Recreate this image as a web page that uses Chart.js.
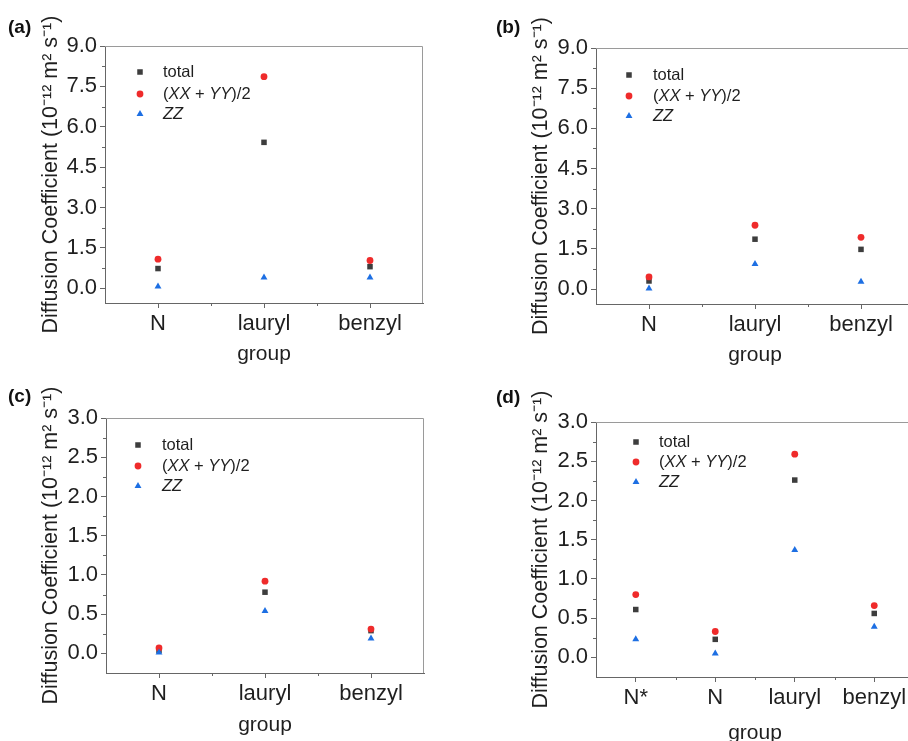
<!DOCTYPE html>
<html>
<head>
<meta charset="utf-8">
<script src="https://cdn.jsdelivr.net/npm/chart.js@4/dist/chart.umd.min.js"></script>
<style>
  body { margin: 0; background: #fff; width: 908px; height: 741px; overflow: hidden; position: relative; }
  .panel { position: absolute; }
</style>
</head>
<body>
<div class="panel" style="left:0;top:0"><canvas id="pa" width="454" height="370"></canvas></div>
<div class="panel" style="left:454px;top:0"><canvas id="pb" width="470" height="370"></canvas></div>
<div class="panel" style="left:0;top:370px"><canvas id="pc" width="454" height="371"></canvas></div>
<div class="panel" style="left:454px;top:370px"><canvas id="pd" width="470" height="376"></canvas></div>
<script>
// categories
var groupsABC = ['N', 'lauryl', 'benzyl'];
var groupsD = ['N*', 'N', 'lauryl', 'benzyl'];
// series names (_..._ = italic)
var seriesNames = ['total', '(_XX_ + _YY_)/2', '_ZZ_'];
// y tick labels
var ticksAB = [0, 1.5, 3, 4.5, 6, 7.5, 9];
var ticksCD = [0, 0.5, 1, 1.5, 2, 2.5, 3];

// (a)
var totalA = [0.73, 5.42, 0.80];
var xyA    = [1.08, 7.86, 1.03];
var zzA    = [0.06, 0.40, 0.40];
// (b)
var totalB = [0.30, 1.86, 1.48];
var xyB    = [0.45, 2.38, 1.93];
var zzB    = [0.02, 0.93, 0.27];
// (c)
var totalC = [0.04, 0.78, 0.29];
var xyC    = [0.07, 0.92, 0.31];
var zzC    = [0.01, 0.54, 0.19];
// (d)
var totalD = [0.61, 0.23, 2.26, 0.56];
var xyD    = [0.80, 0.33, 2.59, 0.66];
var zzD    = [0.23, 0.05, 1.37, 0.39];

var FONT = '"Liberation Sans", Arial, sans-serif';
var TEXT = '#1f1f1f';
var AXIS = '#666666';

var extras = {
  id: 'extras',
  afterDraw: function(chart) {
    var o = chart.options.plugins.extras;
    var ctx = chart.ctx, a = chart.chartArea, x = chart.scales.x, y = chart.scales.y;
    ctx.save();
    // top / right frame
    ctx.strokeStyle = '#9a9a9a';
    ctx.lineWidth = 1;
    ctx.beginPath();
    ctx.moveTo(a.left, a.top + 0.5);
    ctx.lineTo(a.right - 0.5, a.top + 0.5);
    ctx.lineTo(a.right - 0.5, a.bottom);
    ctx.stroke();
    // minor ticks
    ctx.strokeStyle = AXIS;
    ctx.beginPath();
    for (var i = 1; i < o.yTicks.length; i++) {
      var py = Math.round(y.getPixelForValue((o.yTicks[i-1] + o.yTicks[i]) / 2)) + 0.5;
      ctx.moveTo(a.left - 3, py); ctx.lineTo(a.left, py);
    }
    for (var j = 1; j < x.ticks.length; j++) {
      var px = Math.round((x.getPixelForTick(j-1) + x.getPixelForTick(j)) / 2) + 0.5;
      ctx.moveTo(px, a.bottom); ctx.lineTo(px, a.bottom + 3);
    }
    ctx.stroke();
    // legend inside plot
    ctx.textBaseline = 'middle';
    ctx.textAlign = 'left';
    chart.data.datasets.forEach(function(ds, k) {
      var mx = a.left + o.legend.mx, my = a.top + o.legend.rows[k];
      ctx.fillStyle = ds.backgroundColor;
      Chart.helpers.drawPoint(ctx, {pointStyle: ds.pointStyle, radius: ds.pointRadius, rotation: 0, borderWidth: 0}, mx, my);
      var tx = a.left + o.legend.tx;
      ctx.fillStyle = TEXT;
      ds.label.split('_').forEach(function(part, n) {
        ctx.font = (n % 2 ? 'italic ' : '') + '16.5px ' + FONT;
        ctx.fillText(part, tx, my);
        tx += ctx.measureText(part).width;
      });
    });
    // panel letter
    ctx.fillStyle = '#111';
    ctx.font = 'bold 19px ' + FONT;
    ctx.textBaseline = 'alphabetic';
    ctx.fillText(o.letter, o.letterX, o.letterY);
    ctx.restore();
  }
};

function makePanel(id, p) {
  var ctx = document.getElementById(id).getContext('2d');
  return new Chart(ctx, {
    type: 'line',
    data: {
      labels: p.labels,
      datasets: [
        { label: seriesNames[0], data: p.total, pointStyle: 'rect', pointRadius: 3.9,
          backgroundColor: '#3d3d3d', borderColor: '#3d3d3d', pointBorderWidth: 0, showLine: false, order: 3 },
        { label: seriesNames[1], data: p.xy, pointStyle: 'circle', pointRadius: 3.4,
          backgroundColor: '#ef2b2b', borderColor: '#ef2b2b', pointBorderWidth: 0, showLine: false, order: 2 },
        { label: seriesNames[2], data: p.zz, pointStyle: 'triangle', pointRadius: 4,
          backgroundColor: '#1d6fe3', borderColor: '#1d6fe3', pointBorderWidth: 0, showLine: false, order: 1 }
      ]
    },
    options: {
      responsive: false,
      animation: false,
      layout: { padding: { left: p.padLeft, right: p.padRight, top: p.padTop, bottom: 0 } },
      plugins: {
        legend: { display: false },
        tooltip: { enabled: false },
        extras: { letter: p.letter, letterX: p.letterX, letterY: p.letterY, yTicks: p.yTicks, legend: p.legend }
      },
      scales: {
        x: {
          type: 'category',
          offset: true,
          afterFit: function(s) { s.height = p.xHeight; },
          border: { display: true, color: AXIS, width: 1 },
          grid: { drawOnChartArea: false, drawTicks: true, tickLength: 5, color: AXIS },
          ticks: { color: TEXT, font: { family: FONT, size: 22 }, padding: 3, autoSkip: false, maxRotation: 0 },
          title: { display: true, text: 'group', color: TEXT, font: { family: FONT, size: 21 }, padding: { top: 4, bottom: p.xTitlePad } }
        },
        y: {
          min: p.yMin,
          max: p.yMax,
          afterFit: function(s) { s.width = p.yWidth; },
          afterBuildTicks: function(s) { s.ticks = p.yTicks.map(function(v) { return { value: v }; }); },
          border: { display: true, color: AXIS, width: 1 },
          grid: { drawOnChartArea: false, drawTicks: true, tickLength: 5, color: AXIS },
          ticks: { color: TEXT, font: { family: FONT, size: 22 }, padding: 3,
                   callback: function(v) { return Number(v).toFixed(1); } },
          title: { display: true, text: 'Diffusion Coefficient (10\u207B\u00B9\u00B2 m\u00B2 s\u207B\u00B9)', color: TEXT,
                   font: { family: FONT, size: 21.5 }, padding: { top: 4, bottom: 4 } }
        }
      }
    },
    plugins: [extras]
  });
}

makePanel('pa', { labels: groupsABC, total: totalA, xy: xyA, zz: zzA, yTicks: ticksAB, yMin: -0.55, yMax: 9,
  padLeft: 34, padRight: 31, padTop: 46, yWidth: 71, xHeight: 67, xTitlePad: 3,
  letter: '(a)', letterX: 8, letterY: 33, legend: { mx: 35, tx: 58, rows: [26, 48, 68] } });
makePanel('pb', { labels: groupsABC, total: totalB, xy: xyB, zz: zzB, yTicks: ticksAB, yMin: -0.56, yMax: 9,
  padLeft: 70, padRight: 10, padTop: 48, yWidth: 72, xHeight: 66, xTitlePad: 2,
  letter: '(b)', letterX: 42, letterY: 33, legend: { mx: 33, tx: 57, rows: [27, 48, 68] } });
makePanel('pc', { labels: groupsABC, total: totalC, xy: xyC, zz: zzC, yTicks: ticksCD, yMin: -0.25, yMax: 3,
  padLeft: 34, padRight: 30, padTop: 48, yWidth: 72, xHeight: 68, xTitlePad: 3,
  letter: '(c)', letterX: 8, letterY: 32, legend: { mx: 32, tx: 56, rows: [27, 48, 68] } });
makePanel('pd', { labels: groupsD, total: totalD, xy: xyD, zz: zzD, yTicks: ticksCD, yMin: -0.25, yMax: 3,
  padLeft: 70, padRight: 10, padTop: 52, yWidth: 72, xHeight: 69, xTitlePad: 0,
  letter: '(d)', letterX: 42, letterY: 33, legend: { mx: 40, tx: 63, rows: [20, 40, 60] } });
</script>
</body>
</html>
